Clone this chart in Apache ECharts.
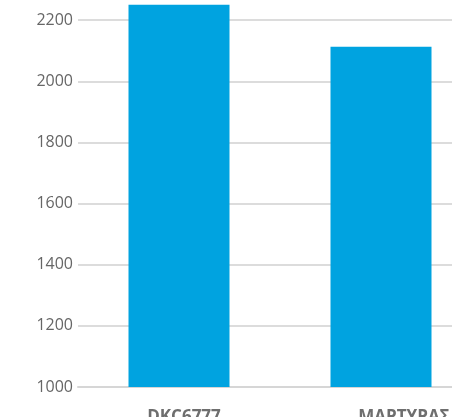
<!DOCTYPE html>
<html>
<head>
<meta charset="utf-8">
<script src="https://cdn.jsdelivr.net/npm/echarts@6/dist/echarts.min.js"></script>
<style>
  html, body { margin: 0; padding: 0; width: 452px; height: 417px; overflow: hidden; background: #fff; }
  #chart { position: absolute; left: 0; top: -51px; width: 520px; height: 478px; }
</style>
</head>
<body>
<div id="chart"></div>
<script>
const categories = ['DKC6777', 'ΜΑΡΤΥΡΑΣ'];
const values = [2250, 2113];
const yMin = 1000;
const yMax = 2400;
const yStep = 200;

const chart = echarts.init(document.getElementById('chart'));
chart.setOption({
  animation: false,
  backgroundColor: '#fff',
  grid: { left: 78, right: 38, top: 10, bottom: 40 },
  xAxis: {
    type: 'category',
    data: categories,
    axisTick: { show: false },
    axisLine: { lineStyle: { color: '#d6d6d6', width: 2 } },
    axisLabel: {
      margin: 22,
      interval: 0,
      formatter: (v, i) => (i === 0 ? '{a|' + v + '}' : '{b|' + v + '}'),
      rich: {
        a: { fontFamily: 'Open Sans', fontWeight: 'bold', fontSize: 17, color: '#6e6e6e', padding: [0, 0, 0, 10] },
        b: { fontFamily: 'Open Sans', fontWeight: 'bold', fontSize: 17, color: '#6e6e6e', padding: [0, 0, 0, 46] }
      }
    }
  },
  yAxis: {
    type: 'value',
    min: yMin,
    max: yMax,
    interval: yStep,
    axisLine: { show: false },
    axisTick: { show: false },
    axisLabel: { fontFamily: 'Open Sans', fontSize: 16, color: '#666', margin: 5, formatter: v => String(v) },
    splitLine: { lineStyle: { color: '#dcdcdc', width: 2 } }
  },
  series: [
    {
      type: 'bar',
      data: values,
      barWidth: '50%',
      itemStyle: { color: '#00a3e0' }
    }
  ]
});
</script>
</body>
</html>
